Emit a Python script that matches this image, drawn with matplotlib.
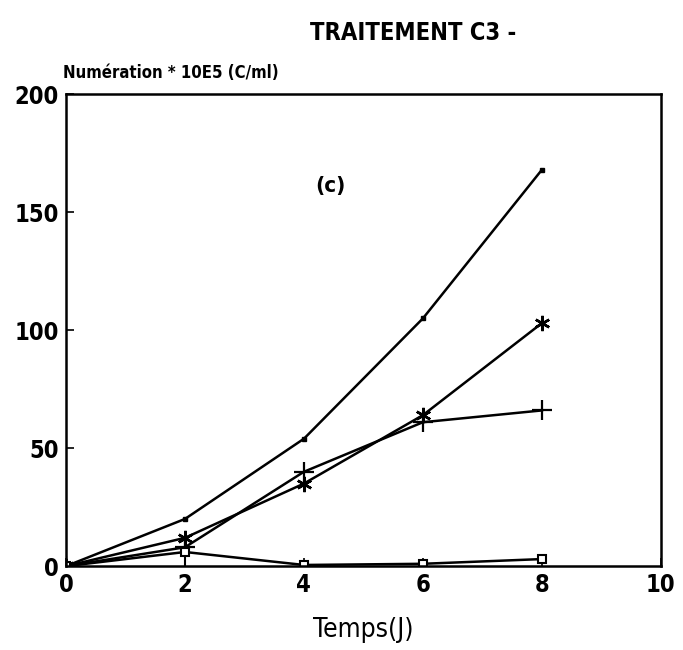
import numpy as np
import matplotlib.pyplot as plt

# données (c)
temps = [0, 2, 4, 6, 8]
serie_carre_plein = [0, 20, 54, 105, 168]
serie_etoile = [0, 12, 35, 64, 103]
serie_plus = [0, 8, 40, 61, 66]
serie_carre_vide = [0, 6, 0.5, 1, 3]
err_carre_vide = [0, 6, 0, 0, 0]

plt.rcParams['font.family'] = ['DejaVu Sans']
plt.rcParams['font.stretch'] = 'condensed'

fig = plt.figure(figsize=(6.83, 6.5), dpi=100)
ax = fig.add_axes([0.0966, 0.129, 0.871, 0.726])

ax.plot(temps, serie_carre_plein, color='black', lw=1.8, marker='s', ms=3.5)
ax.plot(temps, serie_etoile, color='black', lw=1.8, marker=(6, 2, 0), ms=11, mew=1.8)
ax.plot(temps, serie_plus, color='black', lw=1.8, marker='+', ms=14, mew=1.6)
ax.errorbar(temps, serie_carre_vide, yerr=err_carre_vide, color='black', lw=1.8,
            marker='s', ms=6, mfc='white', mew=1.5, capsize=0, elinewidth=1.5)

ax.set_xlim(0, 10)
ax.set_ylim(0, 200)
ax.set_xticks([0, 2, 4, 6, 8, 10])
ax.set_yticks([0, 50, 100, 150, 200])
ax.tick_params(direction='in', length=6, width=1.2, labelsize=17, pad=5)
for lab in ax.get_xticklabels() + ax.get_yticklabels():
    lab.set_fontweight('bold')
for sp in ax.spines.values():
    sp.set_linewidth(1.8)

ax.text(4.45, 161, '(c)', fontsize=16, fontweight='bold', ha='center', va='center')
fig.text(0.605, 0.95, 'TRAITEMENT C3 -', fontsize=17, fontweight='bold', ha='center', va='center')
fig.text(0.092, 0.888, 'Numération * 10E5 (C/ml)', fontsize=12, fontweight='bold', ha='left', va='center')
ax.set_xlabel('Temps(J)', fontsize=19, labelpad=14)

fig.savefig('out.png', dpi=100)
